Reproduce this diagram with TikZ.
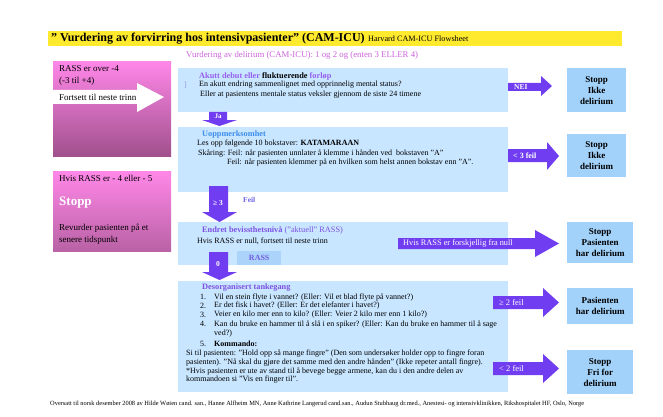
\documentclass[tikz,border=0pt]{standalone}
\usepackage{fontspec}
\setmainfont{Liberation Serif}
\definecolor{ylw}{RGB}{255,234,45}
\definecolor{lblue}{RGB}{200,230,255}
\definecolor{rblue}{RGB}{162,210,250}
\definecolor{rassblue}{RGB}{172,212,250}
\definecolor{arr}{RGB}{112,62,240}
\definecolor{mag}{RGB}{205,100,220}
\definecolor{pinkT}{RGB}{255,135,232}
\definecolor{pinkB}{RGB}{160,80,140}
\definecolor{pinkB2}{RGB}{185,98,165}
\definecolor{hpurp}{RGB}{150,95,240}
\definecolor{hblue}{RGB}{60,140,235}
\definecolor{hpurp2}{RGB}{125,80,225}
\definecolor{brk}{RGB}{150,150,240}
\newcommand\mkbox[6]{\node[#6, minimum width={(#4-#2)*1pt}, minimum height={(#5-#3)*1pt}, inner sep=0, anchor=north west] (#1) at (#2,#3) {};}
% horizontal block arrow: x1 x2 bodytop bodybottom headtop headbottom tip
\newcommand\harrow[7]{\fill[arr] (#1,#3) -- (#2,#3) -- (#2,#5) -- (#7,{(#5+#6)/2}) -- (#2,#6) -- (#2,#4) -- (#1,#4) -- cycle;}
% vertical block arrow: xl xr ytop ybody headxl headxr tip
\newcommand\varrow[7]{\fill[arr] (#1,#3) -- (#2,#3) -- (#2,#4) -- (#6,#4) -- ({(#5+#6)/2},#7) -- (#5,#4) -- (#1,#4) -- cycle;}
\begin{document}
\begin{tikzpicture}[x=1pt,y=-1pt,
  txt/.style={anchor=west, inner sep=0, font=\fontsize{8}{9}\selectfont},
  htxt/.style={anchor=west, inner sep=0, font=\fontsize{8.3}{9}\selectfont\bfseries},
  ptxt/.style={anchor=west, inner sep=0, font=\fontsize{9}{10}\selectfont},
  bluebox/.style={fill=lblue},
  stopbox/.style={fill=rblue},
  stoptxt/.style={inner sep=0, align=center, font=\fontsize{9}{11}\selectfont\bfseries},
  arrlbl/.style={anchor=west, inner sep=0, text=white, font=\fontsize{8}{9}\selectfont},
  pinkbox/.style={top color=pinkT, bottom color=pinkB},
  pinkbox2/.style={top color=pinkT, bottom color=pinkB2}]
\useasboundingbox (0,0) rectangle (663,417);
\fill[white] (0,0) rectangle (663,417);

% title
\mkbox{bar}{48}{31}{622}{46}{fill=ylw}
\node[anchor=west, inner sep=0, font=\fontsize{12}{14}\selectfont\bfseries] (title) at (51,38.5) {” Vurdering av forvirring hos intensivpasienter” (CAM-ICU)};
\node[inner sep=0, anchor=base west, font=\fontsize{8.2}{9}\selectfont, xshift=3pt] (harv) at (title.base east) {Harvard CAM-ICU Flowsheet};
\node[anchor=west, inner sep=0, font=\fontsize{8.8}{10}\selectfont, text=mag] (sub) at (186,55) {Vurdering av delirium (CAM-ICU): 1 og 2 og (enten 3 ELLER 4)};

% left pink boxes
\mkbox{p1}{53}{61}{171}{156}{pinkbox}
\node[ptxt] (p1a) at (59,69) {RASS er over -4};
\node[ptxt] (p1b) at (59,81) {(-3 til +4)};
\fill[white] (53,90) -- (137,90) -- (137,83) -- (164,97) -- (137,112) -- (137,104) -- (53,104) -- cycle;
\node[ptxt] (p1c) at (59,97) {Fortsett til neste trinn};

\mkbox{p2}{53}{171}{171}{251}{pinkbox2}
\node[ptxt] (p2a) at (59,178) {Hvis RASS er - 4 eller - 5};
\node[anchor=west, inner sep=0, text=white, font=\fontsize{13}{15}\selectfont\bfseries] (p2b) at (59,203) {Stopp};
\node[ptxt] (p2c) at (59,228) {Revurder pasienten på et};
\node[ptxt] (p2d) at (59,240) {senere tidspunkt};

% blue boxes
\mkbox{b1}{178}{68}{508}{112}{bluebox}
\mkbox{b2}{178}{127}{508}{192}{bluebox}
\mkbox{b3}{178}{222}{508}{265}{bluebox}
\mkbox{b4}{178}{281}{508}{392}{bluebox}

% box 1 text
\node[htxt] (h1) at (199,76) {\textcolor{hpurp}{Akutt debut eller} fluktuerende \textcolor{hpurp}{forløp}};
\node[txt, text=brk] (brk) at (184,85) {]};
\node[txt] (t1a) at (199,85) {En akutt endring sammenlignet med opprinnelig mental status?};
\node[txt] (t1b) at (200,95) {Eller at pasientens mentale status veksler gjennom de siste 24 timene};

% box 2 text
\node[htxt, text=hblue] (h2) at (202,135) {Uoppmerksomhet};
\node[txt] (t2a) at (197,144) {Les opp følgende 10 bokstaver: \textbf{KATAMARAAN}};
\node[txt] (t2b) at (198,153) {Skåring: Feil: når pasienten unnlater å klemme i hånden ved\ \ bokstaven "A"};
\node[txt] (t2c) at (227,162) {Feil: når pasienten klemmer på en hvilken som helst annen bokstav enn "A".};

% box 3 text
\node[htxt, text=hpurp2] (h3) at (202,230) {Endret bevissthetsnivå \mdseries("aktuell" RASS)};
\node[txt] (t3a) at (197,241) {Hvis RASS er null, fortsett til neste trinn};
\mkbox{rass}{237}{251}{281}{265}{fill=rassblue}
\node[inner sep=0, text=hpurp2!80!hblue, font=\fontsize{8}{9}\selectfont\bfseries] (rasst) at (rass.center) {RASS};

% box 4 text
\node[htxt, text=hpurp2] (h4) at (202,288) {Desorganisert tankegang};
\node[txt] (n1) at (200,297) {1.}; \node[txt] (l1) at (214,297) {Vil en stein flyte i vannet? (Eller: Vil et blad flyte på vannet?)};
\node[txt] (n2) at (200,306) {2.}; \node[txt] (l2) at (214,306) {Er det fisk i havet? (Eller: Er det elefanter i havet?)};
\node[txt] (n3) at (200,315) {3.}; \node[txt] (l3) at (214,315) {Veier en kilo mer enn to kilo? (Eller: Veier 2 kilo mer enn 1 kilo?)};
\node[txt] (n4) at (200,324) {4.}; \node[txt] (l4) at (214,324) {Kan du bruke en hammer til å slå i en spiker? (Eller: Kan du bruke en hammer til å sage};
\node[txt] (l4b) at (214,334) {ved?)};
\node[txt] (n5) at (200,344) {5.}; \node[txt] (l5) at (214,344) {\textbf{Kommando:}};
\node[txt] (k1) at (186,353) {Si til pasienten: "Hold opp så mange fingre" (Den som undersøker holder opp to fingre foran};
\node[txt] (k2) at (186,362) {pasienten). "Nå skal du gjøre det samme med den andre hånden" (Ikke repeter antall fingre).};
\node[txt] (k3) at (186,371) {*Hvis pasienten er ute av stand til å bevege begge armene, kan du i den andre delen av};
\node[txt] (k4) at (186,380) {kommandoen si "Vis en finger til".};

% vertical arrows
\varrow{209}{227}{112}{120}{202}{237}{126}
\node[inner sep=0, text=white, font=\fontsize{7}{8}\selectfont\bfseries] (ja) at (218,116.5) {Ja};
\varrow{209}{228}{186}{212}{202}{237}{222}
\node[inner sep=0, text=white, font=\fontsize{7.5}{8}\selectfont\bfseries] (ge3) at (218,203) {≥ 3};
\node[anchor=west, inner sep=0, text=hpurp2!70!hblue, font=\fontsize{7.5}{8}\selectfont\bfseries] (feil) at (243,200) {Feil};
\varrow{209}{228}{252}{272}{202}{237}{280}
\node[inner sep=0, text=white, font=\fontsize{7.5}{8}\selectfont\bfseries] (zero) at (218,264) {0};

% horizontal arrows
\harrow{508}{541}{83}{91}{76}{96}{552}
\node[arrlbl, font=\fontsize{7.5}{8}\selectfont\bfseries] (nei) at (514,87) {NEI};
\harrow{508}{547}{149}{162}{142}{170}{559}
\node[arrlbl, font=\fontsize{8}{9}\selectfont\bfseries] (lt3) at (513,155.5) {< 3 feil};
\harrow{398}{535}{238}{249}{230}{257}{559}
\node[arrlbl, font=\fontsize{8.3}{9}\selectfont] (rassdiff) at (403,243.5) {Hvis RASS er forskjellig fra null};
\harrow{493}{543}{296}{309}{288}{317}{559}
\node[arrlbl, font=\fontsize{8.5}{9}\selectfont] (ge2) at (499,302.5) {≥ 2 feil};
\harrow{493}{543}{362}{375}{354}{383}{559}
\node[arrlbl, font=\fontsize{8.5}{9}\selectfont] (lt2) at (499,368.5) {< 2 feil};

% right boxes
\mkbox{sA}{567}{68}{626}{112}{stopbox}
\node[stoptxt] (sAt) at (sA.center) {Stopp\\Ikke\\delirium};
\mkbox{sB}{567}{134}{626}{177}{stopbox}
\node[stoptxt] (sBt) at (sB.center) {Stopp\\Ikke\\delirium};
\mkbox{sC}{567}{222}{633}{263}{stopbox}
\node[stoptxt] (sCt) at (sC.center) {Stopp\\Pasienten\\har delirium};
\mkbox{sD}{567}{288}{633}{324}{stopbox}
\node[stoptxt] (sDt) at (sD.center) {Pasienten\\har delirium};
\mkbox{sE}{567}{350}{633}{394}{stopbox}
\node[stoptxt] (sEt) at (sE.center) {Stopp\\Fri for\\delirium};

% footer
\node[inner sep=0, anchor=west, font=\fontsize{6.4}{7}\selectfont] (foot) at (50,404) {Oversatt til norsk desember 2008 av Hilde Wøien cand. san., Hanne Alfheim MN, Anne Kathrine Langerud cand.san., Audun Stubhaug dr.med., Anestesi- og intensivklinikken, Rikshospitalet HF, Oslo, Norge};
\end{tikzpicture}
\end{document}
